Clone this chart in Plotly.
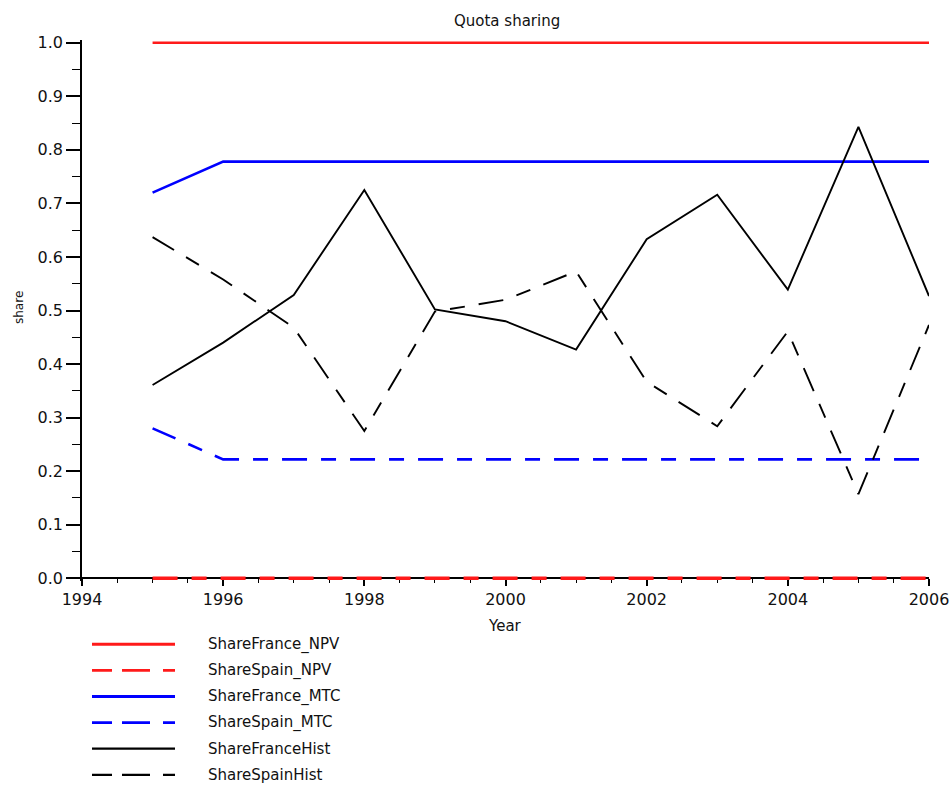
import plotly.graph_objects as go

# ---- data -------------------------------------------------------------
years = [1995, 1996, 1997, 1998, 1999, 2000, 2001, 2002, 2003, 2004, 2005, 2006]

share_france_npv = [1.0, 1.0, 1.0, 1.0, 1.0, 1.0, 1.0, 1.0, 1.0, 1.0, 1.0, 1.0]
share_spain_npv = [0.0, 0.0, 0.0, 0.0, 0.0, 0.0, 0.0, 0.0, 0.0, 0.0, 0.0, 0.0]
share_france_mtc = [0.72, 0.778, 0.778, 0.778, 0.778, 0.778, 0.778, 0.778, 0.778, 0.778, 0.778, 0.778]
share_spain_mtc = [0.28, 0.222, 0.222, 0.222, 0.222, 0.222, 0.222, 0.222, 0.222, 0.222, 0.222, 0.222]
share_france_hist = [0.361, 0.44, 0.529, 0.725, 0.502, 0.48, 0.427, 0.633, 0.716, 0.539, 0.843, 0.527]
share_spain_hist = [0.637, 0.558, 0.468, 0.275, 0.498, 0.52, 0.573, 0.367, 0.284, 0.461, 0.157, 0.473]

series_names = ["ShareFrance_NPV", "ShareSpain_NPV", "ShareFrance_MTC",
                "ShareSpain_MTC", "ShareFranceHist", "ShareSpainHist"]
series_values = [share_france_npv, share_spain_npv, share_france_mtc,
                 share_spain_mtc, share_france_hist, share_spain_hist]

x_ticks = [1994, 1996, 1998, 2000, 2002, 2004, 2006]

# ---- styling ------------------------------------------------------------
RED = "#ff1a1a"
BLUE = "#0000ff"
BLACK = "#000000"
DASH = "25px,14px,15px,14px"
LEGEND_DASH = "20px,10px,28px,13px"
styles = [
    dict(color=RED, width=2.6, dash="solid"),
    dict(color=RED, width=3.4, dash=DASH),
    dict(color=BLUE, width=2.6, dash="solid"),
    dict(color=BLUE, width=2.6, dash=DASH),
    dict(color=BLACK, width=1.9, dash="solid"),
    dict(color=BLACK, width=1.9, dash=DASH),
]

FONT = "DejaVu Sans"
W, H = 950, 790
ML, MR, MT, MB = 82, 21, 40, 209
PW, PH = W - ML - MR, H - MT - MB
Y_PAD = 0.005


def px_x(px):
    return (px - ML) / PW


def px_y(py):
    return (H - MB - py) / PH


fig = go.Figure()
for name, vals, st in zip(series_names, series_values, styles):
    fig.add_trace(go.Scatter(x=years, y=vals, mode="lines", name=name,
                             line=dict(color=st["color"], width=st["width"], dash=st["dash"]),
                             showlegend=False))

axis_common = dict(showgrid=False, zeroline=False, showline=True, linecolor=BLACK,
                   linewidth=1.5, ticks="outside", tickcolor=BLACK, tickwidth=1.5,
                   layer="below traces", automargin=False,
                   tickfont=dict(family=FONT, size=16, color="#111"))

fig.update_xaxes(range=[1994, 2006], tickmode="array", tickvals=x_ticks,
                 ticklen=7, anchor="free", position=Y_PAD / (1 + 2 * Y_PAD),
                 minor=dict(dtick=0.5, tick0=1994, ticklen=4, ticks="outside",
                            tickcolor=BLACK, tickwidth=1.2),
                 **axis_common)
fig.update_yaxes(range=[-Y_PAD, 1 + Y_PAD], tick0=0, dtick=0.1, tickformat=".1f",
                 ticklen=14,
                 minor=dict(dtick=0.05, tick0=0, ticklen=8, ticks="outside",
                            tickcolor=BLACK, tickwidth=1.2),
                 **axis_common)

annotations = [
    dict(text="Quota sharing", x=px_x(507), y=px_y(21), font=dict(family=FONT, size=15, color="#111")),
    dict(text="Year", x=px_x(505), y=px_y(626), font=dict(family=FONT, size=15, color="#111")),
    dict(text="share", x=px_x(19), y=px_y(308), textangle=-90, font=dict(family=FONT, size=12, color="#111")),
]

# legend drawn below the plot: sample line + label per series
shapes = []
for i, (name, st) in enumerate(zip(series_names, styles)):
    ry = 644.3 + 26.1 * i
    shapes.append(dict(type="line", xref="paper", yref="paper",
                       x0=px_x(92), x1=px_x(175), y0=px_y(ry), y1=px_y(ry),
                       line=dict(color=st["color"], width=min(st["width"], 2.6) + 0.3,
                                 dash=LEGEND_DASH if st["dash"] != "solid" else "solid")))
    annotations.append(dict(text=name, x=px_x(206), y=px_y(ry), xanchor="left",
                            font=dict(family=FONT, size=15, color="#111")))

for a in annotations:
    a.setdefault("xref", "paper")
    a.setdefault("yref", "paper")
    a.setdefault("showarrow", False)
    a.setdefault("xanchor", "center")
    a.setdefault("yanchor", "middle")

fig.update_layout(width=W, height=H, margin=dict(l=ML, r=MR, t=MT, b=MB),
                  paper_bgcolor="white", plot_bgcolor="white",
                  annotations=annotations, shapes=shapes, showlegend=False)

fig.write_html("out.html")
